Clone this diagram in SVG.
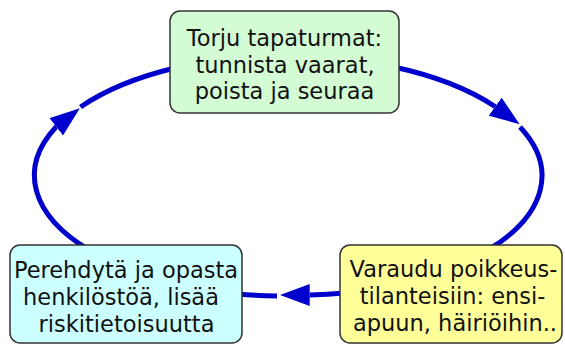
<svg xmlns="http://www.w3.org/2000/svg" width="565" height="345" viewBox="0 0 565 345">
<style>
.conn{fill:none;stroke:#0000CC;stroke-width:5}
.box{stroke:#333333;stroke-width:1.5}
.lbl{font-family:"DejaVu Sans",Verdana,sans-serif;font-size:22.5px;fill:#111111;text-anchor:middle}
</style>
<defs>
<marker id="arrow" markerUnits="userSpaceOnUse" viewBox="0 0 30 22" refX="0" refY="11" markerWidth="30" markerHeight="22" orient="auto">
<path d="M0,0 L30,11 L0,22 Z" fill="#0000CC"/>
</marker>
</defs>
<rect width="565" height="345" fill="#ffffff"/>
<g id="connectors">
<path class="conn" d="M 89 250 A 253 120 0 0 1 56 127 l 0.23 -0.18" marker-end="url(#arrow)"/>
<path class="conn" d="M 80.5 107 A 253 120 0 0 1 175 68"/>
<path class="conn" d="M 394 67 A 253 120 0 0 1 495 106.5 l 0.23 0.165" marker-end="url(#arrow)"/>
<path class="conn" d="M 520 127 A 253 120 0 0 1 488 250"/>
<path class="conn" d="M 345 293 A 253 120 0 0 1 310 295 l -0.3 0" marker-end="url(#arrow)"/>
<path class="conn" d="M 277 296 A 253 120 0 0 1 237 294"/>
</g>
<g id="node-top">
<rect class="box" x="170" y="11" width="229" height="102" rx="10" fill="#D4FCD4"/>
<text class="lbl" x="284.5" y="46">Torju tapaturmat:</text>
<text class="lbl" x="285" y="73">tunnista vaarat,</text>
<text class="lbl" x="284.5" y="99">poista ja seuraa</text>
</g>
<g id="node-left">
<rect class="box" x="10" y="245" width="232" height="98" rx="10" fill="#CCFFFF"/>
<text class="lbl" x="126" y="278">Perehdytä ja opasta</text>
<text class="lbl" x="121" y="305">henkilöstöä, lisää</text>
<text class="lbl" x="126.5" y="332">riskitietoisuutta</text>
</g>
<g id="node-right">
<rect class="box" x="340" y="245" width="222" height="98" rx="10" fill="#FFFF99"/>
<text class="lbl" x="453.5" y="277">Varaudu poikkeus-</text>
<text class="lbl" x="452.5" y="304">tilanteisiin: ensi-</text>
<text class="lbl" x="455" y="331">apuun, häiriöihin..</text>
</g>
</svg>
